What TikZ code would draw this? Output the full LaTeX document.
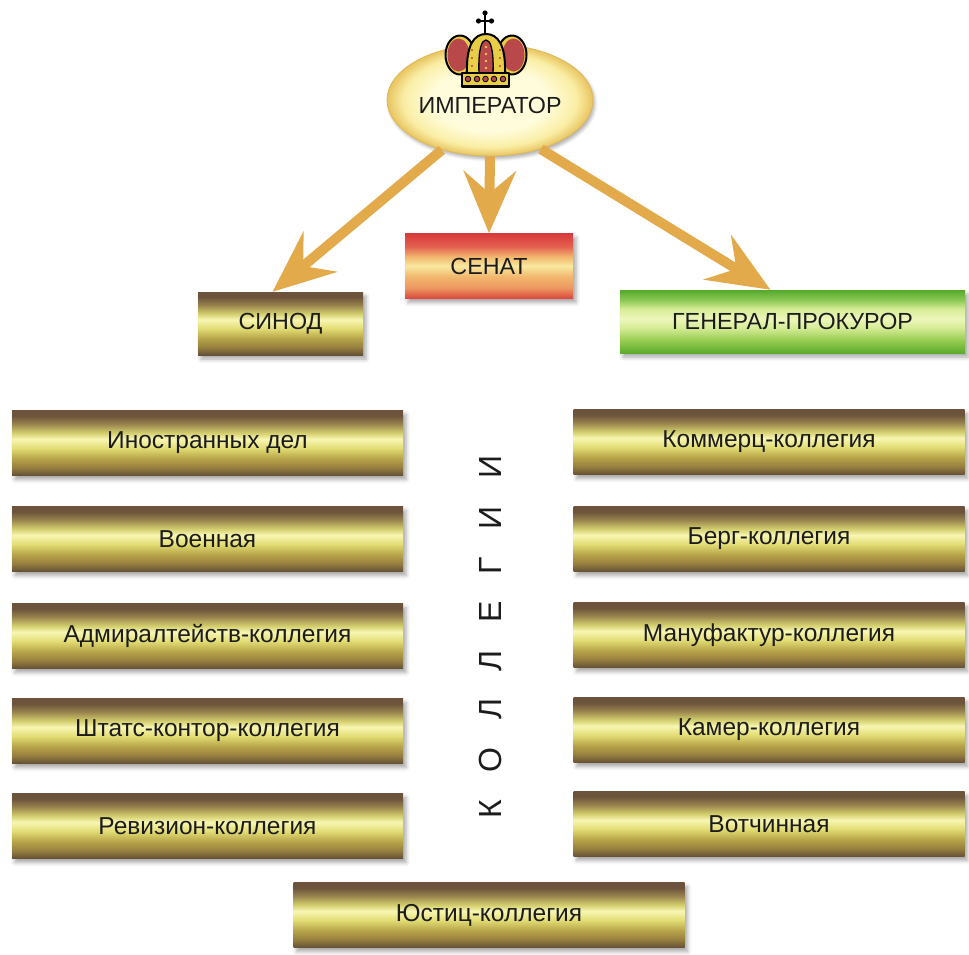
\documentclass[tikz,border=0pt]{standalone}
\usepackage{fontspec}
\setmainfont{Liberation Sans}
\usetikzlibrary{arrows.meta,shadows.blur,calc,shapes.geometric}

\definecolor{gbA}{RGB}{108,84,60}
\definecolor{gbB}{RGB}{150,128,76}
\definecolor{gbC}{RGB}{210,204,108}
\definecolor{gbD}{RGB}{248,246,178}
\definecolor{gbE}{RGB}{226,220,116}
\definecolor{gbF}{RGB}{182,164,72}
\definecolor{gbG}{RGB}{150,126,62}
\definecolor{gbH}{RGB}{100,80,54}
\pgfdeclareverticalshading{goldbar}{100bp}{
  color(0bp)=(gbH); color(25bp)=(gbH); color(31bp)=(gbG); color(38bp)=(gbF);
  color(46bp)=(gbE); color(53bp)=(gbD); color(58bp)=(gbC); color(65bp)=(gbB);
  color(71bp)=(gbA); color(75bp)=(gbA); color(100bp)=(gbA)}

\definecolor{rdA}{RGB}{214,58,58}
\definecolor{rdB}{RGB}{228,96,80}
\definecolor{rdC}{RGB}{242,184,110}
\definecolor{rdD}{RGB}{248,232,160}
\definecolor{rdE}{RGB}{236,150,96}
\definecolor{rdF}{RGB}{220,70,62}
\pgfdeclareverticalshading{redbar}{100bp}{
  color(0bp)=(rdF); color(25bp)=(rdF); color(33bp)=(rdE); color(42bp)=(rdC);
  color(50bp)=(rdD); color(57bp)=(rdC); color(65bp)=(rdB); color(75bp)=(rdA);
  color(100bp)=(rdA)}

\definecolor{grA}{RGB}{84,168,44}
\definecolor{grB}{RGB}{140,200,84}
\definecolor{grC}{RGB}{214,236,150}
\definecolor{grD}{RGB}{236,246,186}
\definecolor{grE}{RGB}{150,204,80}
\definecolor{grF}{RGB}{92,170,46}
\pgfdeclareverticalshading{greenbar}{100bp}{
  color(0bp)=(grF); color(25bp)=(grF); color(35bp)=(grE); color(45bp)=(grC);
  color(52bp)=(grD); color(60bp)=(grC); color(67bp)=(grB); color(75bp)=(grA);
  color(100bp)=(grA)}

\definecolor{emA}{RGB}{255,252,220}
\definecolor{emB}{RGB}{250,238,165}
\definecolor{emC}{RGB}{232,196,96}
\pgfdeclareradialshading{empshade}{\pgfpoint{0bp}{0bp}}{
  color(0bp)=(emA); color(14bp)=(emA); color(21bp)=(emB); color(25bp)=(emC);
  color(50bp)=(emC)}

\definecolor{arrowgold}{RGB}{226,170,74}
\definecolor{crowngold}{RGB}{232,206,70}
\definecolor{crownred}{RGB}{184,72,74}
\definecolor{txt}{RGB}{28,28,28}

\tikzset{
  bar/.style={rectangle, inner sep=0pt, shading=goldbar, minimum width=391pt,
    minimum height=65pt, text=txt, font=\fontsize{24.5}{28}\selectfont,
    blur shadow={shadow xshift=3pt, shadow yshift=-4pt, shadow blur radius=4pt, shadow opacity=35}},
  capsfont/.style={font=\fontsize{23.3}{27}\selectfont},
  bigarrow/.style={draw=arrowgold, line width=10pt,
    -{Stealth[length=62pt, width=52pt, inset=22pt]}},
}

\begin{document}
\begin{tikzpicture}[x=1pt,y=-1pt]
\useasboundingbox (0,0) rectangle (969,954);

% emperor
\node[ellipse, minimum width=206pt, minimum height=112pt, inner sep=0pt,
  shading=empshade,
  draw={rgb,255:red,222;green,184;blue,88}, line width=0.8pt,
  blur shadow={shadow xshift=2pt, shadow yshift=-3pt, shadow blur radius=3pt, shadow opacity=30},
  text=txt, capsfont] (emp) at (490,100) {\raisebox{-13.3pt}[0pt][0pt]{ИМПЕРАТОР}};

% crown
\begin{scope}[line width=2pt, draw=black, line join=round]
  % lobes
  \draw[fill=crowngold] (460,55) ellipse (14.5 and 19.5);
  \draw[fill=crowngold] (512,55) ellipse (14.5 and 19.5);
  \fill[crownred] (458.5,55) ellipse (11 and 16.5);
  \fill[crownred] (513.5,55) ellipse (11 and 16.5);
  % central arches
  \draw[fill=crowngold] (467,74) .. controls (466,45) and (474,34) .. (486,34)
        .. controls (498,34) and (506,45) .. (505,74) -- cycle;
  \draw[fill=crownred, line width=1.3pt] (479,74) .. controls (478,48) and (482,40) .. (486,40)
        .. controls (490,40) and (494,48) .. (493,74) -- cycle;
  \foreach \yy in {47,54,61,68} \fill[crowngold] (486,\yy) circle (1.3);
  \foreach \yy in {50,58,66} {\fill[crownred] (472,\yy) circle (1.1); \fill[crownred] (500,\yy) circle (1.1);}
  % base
  \draw[fill=crowngold] (462,73) rectangle (509,87);
  \fill[black] (462,84.5) rectangle (509,88);
  \foreach \cx in {468,477,485.5,494,503} \draw[fill=crownred, line width=0.8pt] (\cx,79) circle (2.8);
  % cross
  \draw[line width=2.6pt] (485,14) -- (485,34);
  \draw[line width=2.6pt] (479,21) -- (491,21);
  \fill[black] (485,13) circle (2.6) (478.5,21) circle (2.6) (491.5,21) circle (2.6);
\end{scope}

% second level
\node[bar, shading=redbar, minimum width=168pt, capsfont] (sen) at (489,266) {СЕНАТ};
\node[bar, minimum width=165pt, minimum height=63pt, capsfont] (sin) at (280.5,323.5) {СИНОД};
\node[bar, shading=greenbar, minimum width=345pt, minimum height=63pt, capsfont] (gen) at (792.5,321.5) {ГЕНЕРАЛ-ПРОКУРОР};

% arrows
\coordinate (genin) at ([xshift=-22pt]gen.north);
\coordinate (sinin) at ([xshift=-8pt]sin.north);
\draw[bigarrow] (emp.226) -- (sinin);
\draw[bigarrow] (emp.270) -- (sen.north);
\draw[bigarrow] (emp.316) -- (genin);

% left column
\node[bar] (c1) at (207.5,443) {Иностранных дел};
\node[bar] (c2) at (207.5,539) {Военная};
\node[bar] (c3) at (207.5,636) {Адмиралтейств-коллегия};
\node[bar] (c4) at (207.5,731) {Штатс-контор-коллегия};
\node[bar] (c5) at (207.5,826) {Ревизион-коллегия};

% right column
\node[bar] (d1) at (769,442) {Коммерц-коллегия};
\node[bar] (d2) at (769,539) {Берг-коллегия};
\node[bar] (d3) at (769,635) {Мануфактур-коллегия};
\node[bar] (d4) at (769,730) {Камер-коллегия};
\node[bar] (d5) at (769,824) {Вотчинная};

% bottom
\node[bar] (jus) at (489,915) {Юстиц-коллегия};

% vertical label
\node[rotate=90, text=txt, font=\fontsize{32}{34}\selectfont, inner sep=0pt] (kol) at (490,637)
  {К\hspace{27.5pt}О\hspace{27.5pt}Л\hspace{27.5pt}Л\hspace{27.5pt}Е\hspace{27.5pt}Г\hspace{27.5pt}И\hspace{27.5pt}И};
\end{tikzpicture}
\end{document}
